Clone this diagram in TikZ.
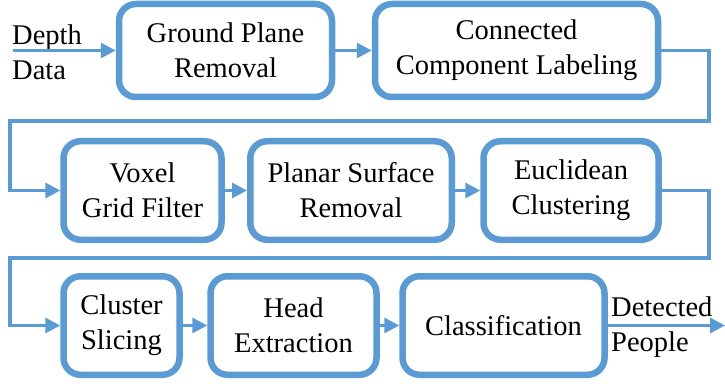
\documentclass[tikz,border=0pt]{standalone}
\usepackage{fontspec}
\setmainfont{Liberation Serif}
\usetikzlibrary{arrows.meta}
\definecolor{bl}{HTML}{5B9BD5}
\begin{document}
\begin{tikzpicture}[x=1pt,y=-1pt,
  box/.style={draw=bl,line width=6.5pt,rounded corners=17pt,fill=white,align=center,font=\rmfamily\fontsize{28.5}{35}\selectfont,inner sep=0pt},
  conn/.style={draw=bl,line width=3.2pt,-{Triangle[length=15pt,width=15pt]}},
  lbl/.style={font=\rmfamily\fontsize{28.5}{35}\selectfont,align=left,inner sep=0pt,anchor=west}]
\useasboundingbox (0,0) rectangle (725,390);
% row 1
\node[box,minimum width=213pt,minimum height=93pt] (gpr) at (225.5,50.5) {Ground Plane\\Removal};
\node[box,minimum width=283pt,minimum height=93pt] (ccl) at (516.5,50.5) {Connected\\Component Labeling};
% row 2
\node[box,minimum width=158pt,minimum height=98.5pt] (vgf) at (142.5,190.5) {Voxel\\Grid Filter};
\node[box,minimum width=201.5pt,minimum height=98.5pt] (psr) at (351,190.5) {Planar Surface\\Removal};
\node[box,minimum width=175pt,minimum height=98.5pt] (euc) at (571,190.5) {Euclidean\\Clustering};
% row 3
\node[box,minimum width=116pt,minimum height=98.5pt] (cs) at (121.5,325.5) {Cluster\\Slicing};
\node[box,minimum width=166pt,minimum height=98.5pt] (he) at (293.5,325.5) {Head\\Extraction};
\node[box,minimum width=202pt,minimum height=98.5pt] (cls) at (503.5,325.5) {Classification};
% labels
\node[lbl] (dd) at (12,52) {Depth\\Data};
\node[lbl] (dp) at (611,327) {Detected\\People};
% coordinates
\coordinate (in) at (13,50.5);
\coordinate (r1) at (709,121);
\coordinate (l1) at (10,121);
\coordinate (r2) at (709,258);
\coordinate (l2) at (10,258);
\coordinate (out) at (725,325.5);
% connectors
\draw[conn] (in) -- (gpr.west);
\draw[conn] (gpr.east) -- (ccl.west);
\draw[conn] (ccl.east) -| (r1) -- (l1) |- (vgf.west);
\draw[conn] (vgf.east) -- (psr.west);
\draw[conn] (psr.east) -- (euc.west);
\draw[conn] (euc.east) -| (r2) -- (l2) |- (cs.west);
\draw[conn] (cs.east) -- (he.west);
\draw[conn] (he.east) -- (cls.west);
\draw[conn] (cls.east) -- (out);
\end{tikzpicture}
\end{document}
